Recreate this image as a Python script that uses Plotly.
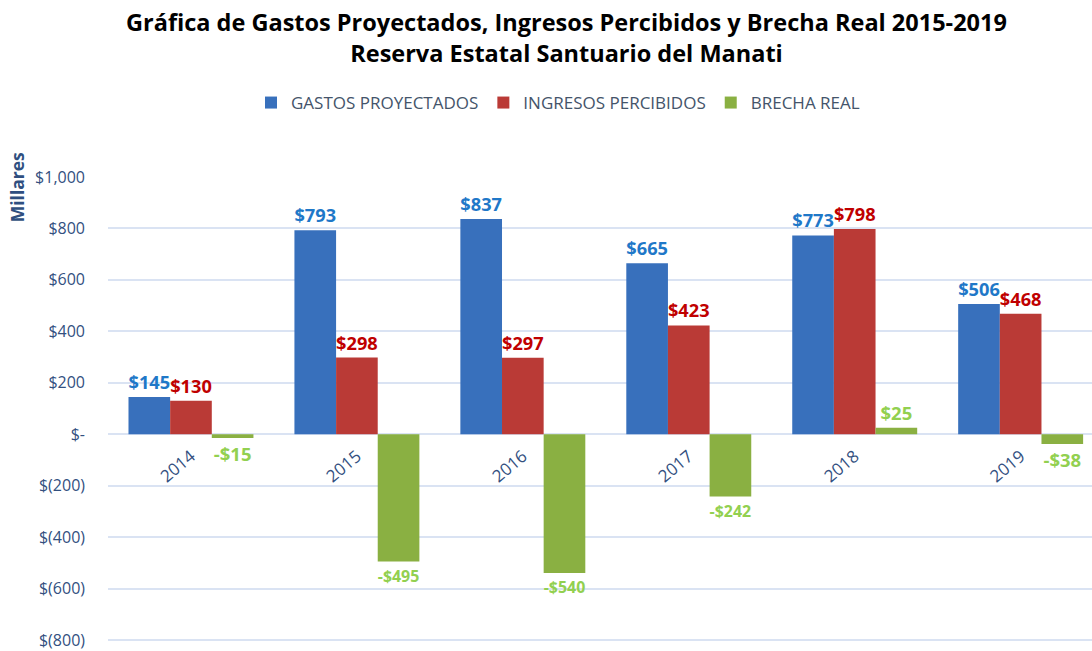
import plotly.graph_objects as go

years = ["2014", "2015", "2016", "2017", "2018", "2019"]
gastos = [145, 793, 837, 665, 773, 506]
ingresos = [130, 298, 297, 423, 798, 468]
brecha = [-15, -495, -540, -242, 25, -38]

tick_vals = [1000, 800, 600, 400, 200, 0, -200, -400, -600, -800]
tick_text = ["$1,000", "$800", "$600", "$400", "$200", "$-", "$(200)", "$(400)", "$(600)", "$(800)"]

def fmt(v):
    return ("-$%d" % abs(v)) if v < 0 else ("$%d" % v)

FONT = "'Open Sans', Lato, sans-serif"
AXIS_COLOR = "#33507F"

Y_MIN, Y_MAX = -808, 1000
PX_PER_UNIT = (641.7 - 176.7) / 1800
plot_bottom = 176.7 + (Y_MAX - Y_MIN) * PX_PER_UNIT
plot_h = plot_bottom - 176.7

fig = go.Figure()
fig.add_trace(go.Bar(
    name="GASTOS PROYECTADOS", x=years, y=gastos,
    marker=dict(color="#3870BC", line=dict(width=0)),
    text=[fmt(v) for v in gastos], textposition="outside",
    textfont=dict(color="#1F78C8", size=18.5, family=FONT, weight="bold"),
    cliponaxis=False,
))
fig.add_trace(go.Bar(
    name="INGRESOS PERCIBIDOS", x=years, y=ingresos,
    marker=dict(color="#BA3A36", line=dict(width=0)),
    text=[fmt(v) for v in ingresos], textposition="outside",
    textfont=dict(color="#C00000", size=18.5, family=FONT, weight="bold"),
    cliponaxis=False,
))
fig.add_trace(go.Bar(
    name="BRECHA REAL", x=years, y=brecha,
    marker=dict(color="#8AB042", line=dict(width=0)),
    text=[fmt(v) for v in brecha], textposition="outside",
    textfont=dict(color="#92D050", size=18.5, family=FONT, weight="bold"),
    cliponaxis=False,
))

fig.update_layout(
    width=1092, height=651,
    paper_bgcolor="white", plot_bgcolor="white",
    margin=dict(l=108, r=0, t=176.7, b=651 - plot_bottom),
    barmode="group", bargap=0.247, bargroupgap=0,
    font=dict(family=FONT, color=AXIS_COLOR),
    title=dict(
        text="Gráfica de Gastos Proyectados, Ingresos Percibidos y Brecha Real 2015-2019<br>Reserva Estatal Santuario del Manati",
        x=(123 + 1010) / 2 / 1092, xanchor="center", y=1 - 31 / 651, yanchor="middle", yref="container",
        xref="container",
        font=dict(family=FONT, size=23.5, color="black", weight="bold"),
    ),
    legend=dict(
        orientation="h", x=558 / 1092, xanchor="center", xref="container",
        y=1 - 103 / 651, yanchor="middle",
        yref="container", font=dict(size=17, color="#44546A", family=FONT),
        itemwidth=30, tracegroupgap=0,
    ),
    showlegend=True,
)

fig.update_yaxes(
    range=[Y_MIN, Y_MAX], tickvals=tick_vals, ticktext=tick_text,
    showgrid=True, gridcolor="#DAE3F3", gridwidth=1.5,
    zeroline=True, zerolinecolor="#DAE3F3", zerolinewidth=1.5,
    tickfont=dict(size=16, color=AXIS_COLOR, family=FONT),
    ticks="", ticklabelstandoff=22, showline=False,
    ticklabeloverflow="allow",
)
fig.update_xaxes(
    type="category", range=[-0.5, 5.43],
    anchor="free", position=(0 - Y_MIN) / (Y_MAX - Y_MIN),
    showline=False, showgrid=False, ticks="",
    tickangle=-40, ticklabelstandoff=8,
    tickfont=dict(size=17, color=AXIS_COLOR, family=FONT),
)

fig.add_annotation(
    text="<b>Millares</b>", xref="paper", yref="paper",
    x=(17 - 108) / 984, xanchor="center",
    y=(plot_bottom - 187) / plot_h, yanchor="middle",
    textangle=-90, showarrow=False,
    font=dict(size=17.5, color="#2F4F80", family=FONT),
)

fig.write_html(
    "out.html",
    config={"displayModeBar": False},
    post_script="document.body.style.margin='0';document.body.style.overflow='hidden';",
)
